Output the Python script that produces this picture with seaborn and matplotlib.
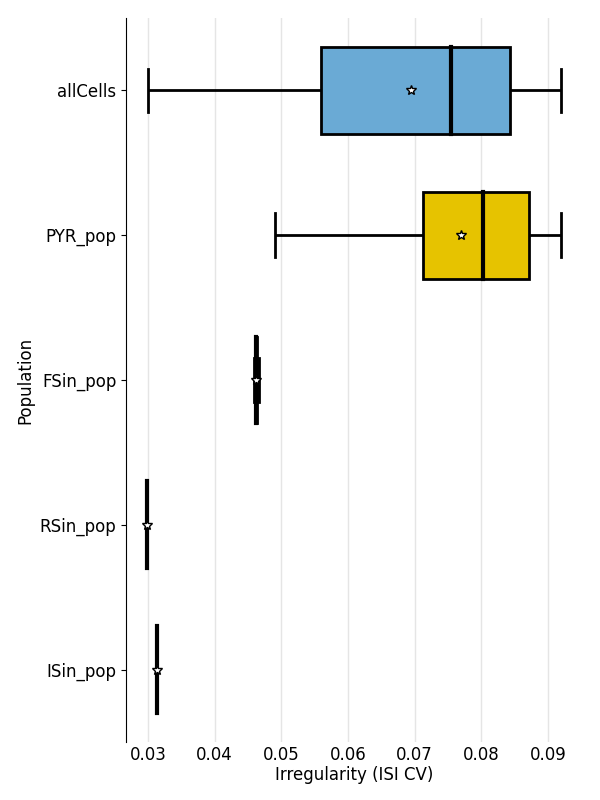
import pandas as pd
import matplotlib
matplotlib.use("Agg")
import matplotlib.pyplot as plt
import seaborn as sns

# =============================
# DATA (ISI CV per cell)
# =============================
POPULATIONS = ["allCells", "PYR_pop", "FSin_pop", "RSin_pop", "ISin_pop"]
COLORS = ["#6AAAD5", "#E6C300", "#E3462F", "#3A9A4A", "#8E6BBF"]

ALL_CELLS = [0.030, 0.050, 0.056, 0.0685, 0.0755, 0.080, 0.0843, 0.089, 0.092]
PYR_POP = [0.049, 0.063, 0.0713, 0.0755, 0.0802, 0.085, 0.0872, 0.090, 0.092]
FSIN_POP = [0.0459, 0.0461, 0.0462, 0.0464, 0.0467]
RSIN_POP = [0.0298, 0.0298, 0.0298]
ISIN_POP = [0.0313, 0.0313, 0.0313]

values = [ALL_CELLS, PYR_POP, FSIN_POP, RSIN_POP, ISIN_POP]
df = pd.concat(
    [pd.DataFrame({"population": pop, "isi_cv": vals})
     for pop, vals in zip(POPULATIONS, values)],
    ignore_index=True,
)

# =============================
# PLOT
# =============================
fig, ax = plt.subplots(figsize=(6, 8), dpi=100)
fig.subplots_adjust(left=0.21, right=0.97, top=0.9775, bottom=0.0725)

sns.boxplot(
    data=df,
    x="isi_cv",
    y="population",
    hue="population",
    order=POPULATIONS,
    hue_order=POPULATIONS,
    palette=dict(zip(POPULATIONS, COLORS)),
    width=0.6,
    linewidth=2,
    linecolor="black",
    saturation=1,
    showfliers=False,
    showmeans=True,
    meanprops=dict(marker="*", markerfacecolor="white",
                   markeredgecolor="black", markersize=7,
                   markeredgewidth=1),
    medianprops=dict(linewidth=3, color="black",
                     solid_capstyle="projecting"),
    legend=False,
    ax=ax,
)

ax.xaxis.grid(True, color="#e5e5e5", linewidth=1)
ax.set_axisbelow(True)
for side in ["top", "right", "bottom"]:
    ax.spines[side].set_visible(False)
ax.tick_params(axis="x", length=0, labelsize=12, pad=3)
ax.tick_params(axis="y", labelsize=12)

ax.set_xlabel("Irregularity (ISI CV)", fontsize=12, labelpad=1)
ax.set_ylabel("Population", fontsize=12)

fig.savefig("out.png", dpi=100)
